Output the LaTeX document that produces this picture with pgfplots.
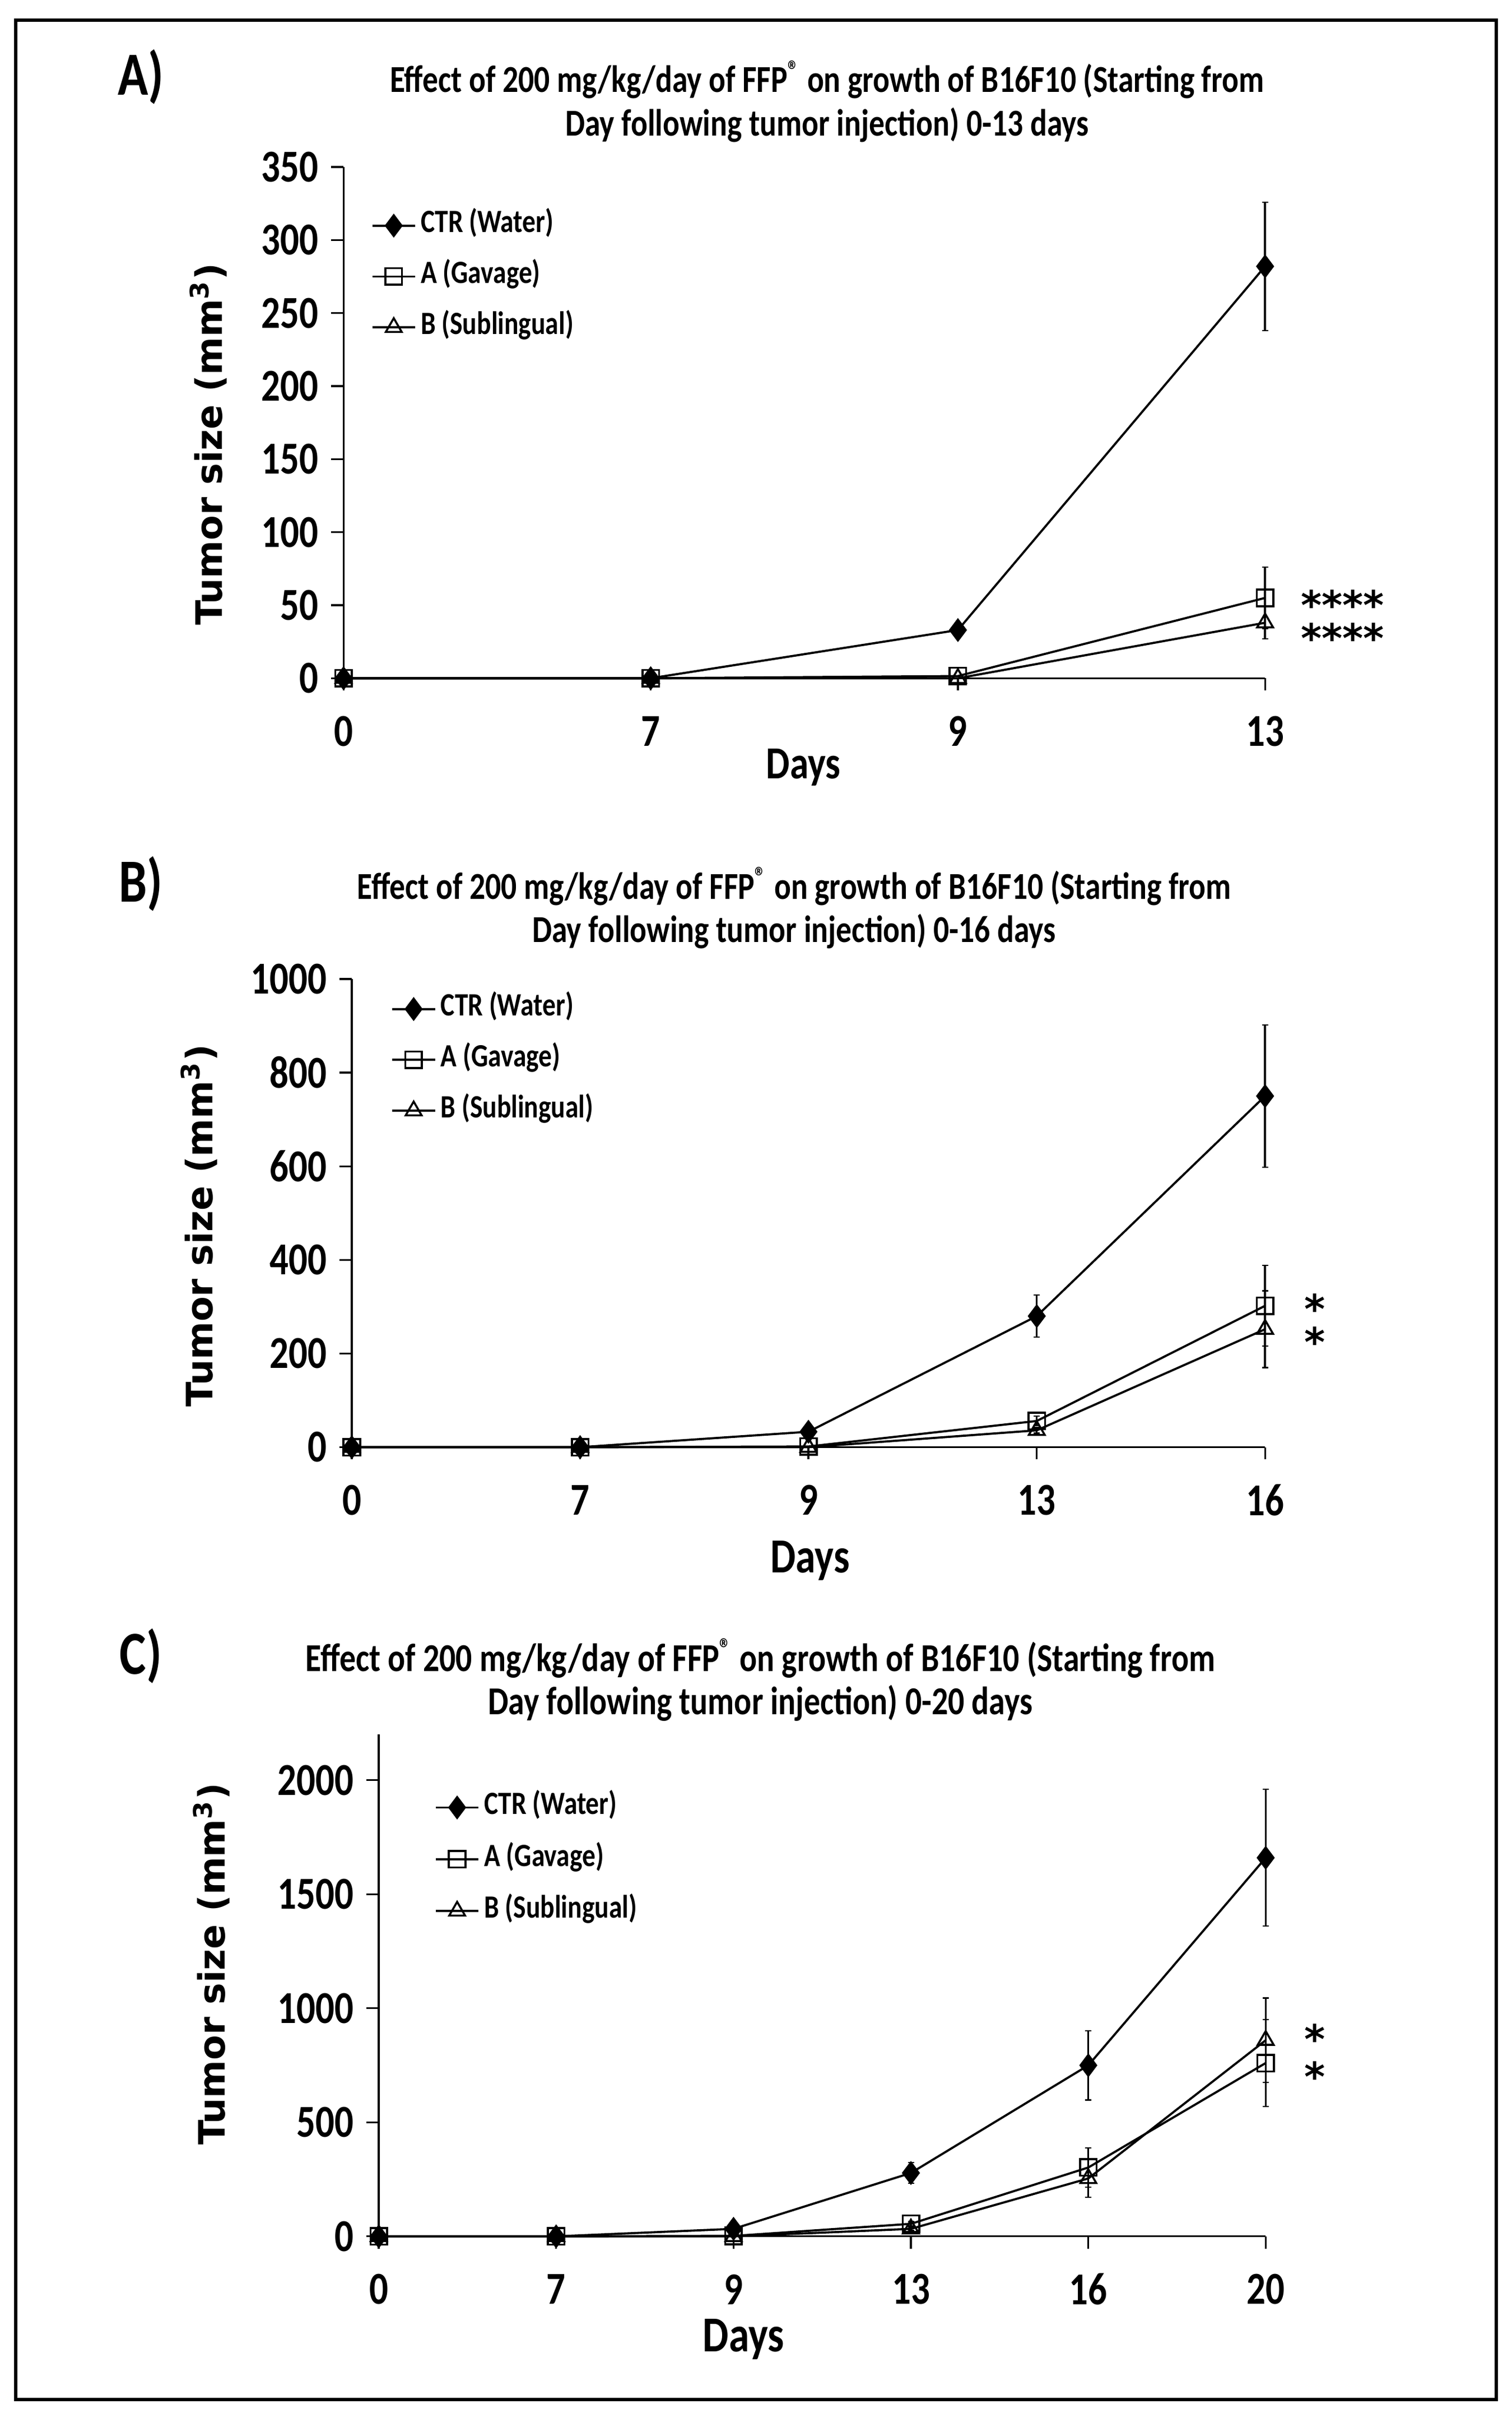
\documentclass[border=0pt]{standalone}
\usepackage{pgfplots}
\usepackage{pgfplotstable}
\pgfplotsset{compat=1.18}
\usepackage{fontspec}
\setmainfont{Carlito}[FakeStretch=0.82]
\newfontfamily\dejavu{DejaVu Sans}

% cap drawn only to the left of the error bar, as in the original
\pgfdeclareplotmark{lcap}{%
  \pgfpathmoveto{\pgfqpoint{-2pt}{0pt}}%
  \pgfpathlineto{\pgfqpoint{0pt}{0pt}}%
  \pgfusepathqstroke}

\pgfplotsset{
  panel/.style={
    scale only axis, clip=false,
    axis lines=left, axis line style={-, line width=0.6pt},
    tick align=outside, major tick length=4pt,
    every tick/.style={black, line width=0.6pt},
    xmin=0, ymin=0, minor tick num=0,
    /pgf/number format/assume math mode=true,
    /pgf/number format/1000 sep={},
    tick label style={font=\fontsize{14.9}{15}\selectfont\bfseries},
    yticklabel style={anchor=east, inner sep=0pt, xshift=-4pt},
    xticklabel style={anchor=center, inner sep=0pt, yshift=-13.3pt},
    legend cell align=left,
    legend style={draw=none, fill=none, anchor=north west, inner sep=0pt,
      font=\fontsize{10.6}{11}\selectfont\bfseries, row sep=8.1pt, column sep=1.5pt,
      nodes={inner sep=0pt, text height=6.5pt, text depth=2pt}},
    legend image code/.code={\draw[mark repeat=2,mark phase=2,##1]
      plot coordinates {(0pt,0pt) (7pt,0pt) (14pt,0pt)};},
    every axis plot/.append style={black, line width=0.7pt,
      mark options={solid, line width=0.65pt},
      error bars/y dir=both, error bars/y explicit, error bars/error mark=lcap,
      error bars/error bar style={line width=0.65pt}},
  },
  ctr/.style={mark=diamond*, mark size=3.4pt},
  gav/.style={mark=square, mark size=2.7pt},
  sub/.style={mark=triangle, mark size=3pt},
}

% panel A: days 0 7 9 13
\pgfplotstableread{
x y e
0 0 0
1 0 0
2 33 4
3 282 44
}\ctrA
\pgfplotstableread{
x y e
0 0 0
1 0 0
2 1.5 0
3 55 21
}\gavA
\pgfplotstableread{
x y e
0 0 0
1 0 0
2 0 0
3 38 11
}\subA

% panel B: days 0 7 9 13 16
\pgfplotstableread{
x y e
0 0 0
1 0 0
2 33 4
3 280 45
4 750 152
}\ctrB
\pgfplotstableread{
x y e
0 0 0
1 0 0
2 1.5 0
3 56 10
4 302 86
}\gavB
\pgfplotstableread{
x y e
0 0 0
1 0 0
2 0 0
3 36 6
4 252 82
}\subB

% panel C: days 0 7 9 13 16 20
\pgfplotstableread{
x y e
0 0 0
1 0 0
2 33 4
3 278 45
4 750 152
5 1660 300
}\ctrC
\pgfplotstableread{
x y e
0 0 0
1 0 0
2 2 0
3 55 10
4 302 86
5 760 190
}\gavC
\pgfplotstableread{
x y e
0 0 0
1 0 0
2 0 0
3 33 6
4 254 82
5 860 185
}\subC

\begin{document}
\begin{tikzpicture}
\path[use as bounding box] (0pt,0pt) rectangle (493.5pt,-787.5pt);
\draw[line width=1.1pt] (5.12pt,-6.58pt) rectangle (488.4pt,-783.05pt);

\begin{axis}[panel, at={(112.15pt,-221.35pt)}, anchor=south west,
  width=300.85pt, height=166.85pt,
  xmax=3, ymax=350, xtick={0,1,2,3}, xticklabels={0,7,9,13},
  ytick={0,50,...,350},
  legend style={at={(0.0294,0.912)}}]
\addplot[ctr] table[x=x, y=y, y error=e] {\ctrA};
\addplot[gav] table[x=x, y=y, y error=e] {\gavA};
\addplot[sub] table[x=x, y=y, y error=e] {\subA};
\legend{CTR (Water), A (Gavage), B (Sublingual)}
\end{axis}

\begin{axis}[panel, at={(114.85pt,-472.3pt)}, anchor=south west,
  width=298.15pt, height=152.8pt,
  xmax=4, ymax=1000, xtick={0,...,4}, xticklabels={0,7,9,13,16},
  ytick={0,200,...,1000},
  legend style={at={(0.0424,0.965)}}]
\addplot[ctr] table[x=x, y=y, y error=e] {\ctrB};
\addplot[gav] table[x=x, y=y, y error=e] {\gavB};
\addplot[sub] table[x=x, y=y, y error=e] {\subB};
\legend{CTR (Water), A (Gavage), B (Sublingual)}
\end{axis}

\begin{axis}[panel, at={(123.65pt,-729.85pt)}, anchor=south west,
  width=289.55pt, height=163.75pt,
  xmax=5, ymax=2200, xtick={0,...,5}, xticklabels={0,7,9,13,16,20},
  ytick={0,500,...,2000},
  legend style={at={(0.0623,0.882)}, row sep=8.4pt}]
\addplot[ctr] table[x=x, y=y, y error=e] {\ctrC};
\addplot[gav] table[x=x, y=y, y error=e] {\gavC};
\addplot[sub] table[x=x, y=y, y error=e] {\subC};
\legend{CTR (Water), A (Gavage), B (Sublingual)}
\end{axis}

% panel letters
\begin{scope}[every node/.style={font=\fontsize{20}{20}\selectfont\bfseries}]
\node at (46pt,-25pt) {A)};
\node at (46pt,-288.5pt) {B)};
\node at (46pt,-540.5pt) {C)};
\end{scope}

% titles
\begin{scope}[every node/.style={font=\fontsize{12.4}{13}\selectfont\bfseries}]
\node at (270pt,-26pt) {Effect of 200 mg/kg/day of FFP\textsuperscript{®} on growth of B16F10 (Starting from};
\node at (270pt,-40.75pt) {Day following tumor injection) 0-13 days};
\node at (259.25pt,-289.3pt) {Effect of 200 mg/kg/day of FFP\textsuperscript{®} on growth of B16F10 (Starting from};
\node at (259.25pt,-304pt) {Day following tumor injection) 0-16 days};
\end{scope}
\begin{scope}[every node/.style={font=\fontsize{12.9}{13}\selectfont\bfseries}]
\node at (248.25pt,-541.25pt) {Effect of 200 mg/kg/day of FFP\textsuperscript{®} on growth of B16F10 (Starting from};
\node at (248.25pt,-555.75pt) {Day following tumor injection) 0-20 days};
\end{scope}

% x axis labels
\node[font=\fontsize{15}{15}\selectfont\bfseries] at (262.25pt,-250.5pt) {Days};
\node[font=\fontsize{16}{16}\selectfont\bfseries] at (264.5pt,-509.25pt) {Days};
\node[font=\fontsize{16.4}{16}\selectfont\bfseries] at (242.75pt,-763.5pt) {Days};

% y axis labels
\begin{scope}[every node/.style={rotate=90, font=\dejavu\bfseries\fontsize{11.9}{12}\selectfont}]
\node at (68pt,-145pt) {Tumor size (mm\textsuperscript{3})};
\node at (65pt,-400pt) {Tumor size (mm\textsuperscript{3})};
\node at (69pt,-641pt) {Tumor size (mm\textsuperscript{3})};
\end{scope}

% significance marks, two rows per panel (base = last row)
\begin{scope}[every node/.style={inner sep=0pt, align=center,
    font=\dejavu\bfseries\fontsize{13}{9.5}\selectfont}]
\node[anchor=base west, align=left] at (424.5pt,-212.9pt) {****\\****};
\node[anchor=base] at (429.3pt,-442.6pt) {*\\*};
\node[anchor=base] at (429.3pt,-682.4pt) {*\\[1.5pt]*};
\end{scope}
\end{tikzpicture}
\end{document}
